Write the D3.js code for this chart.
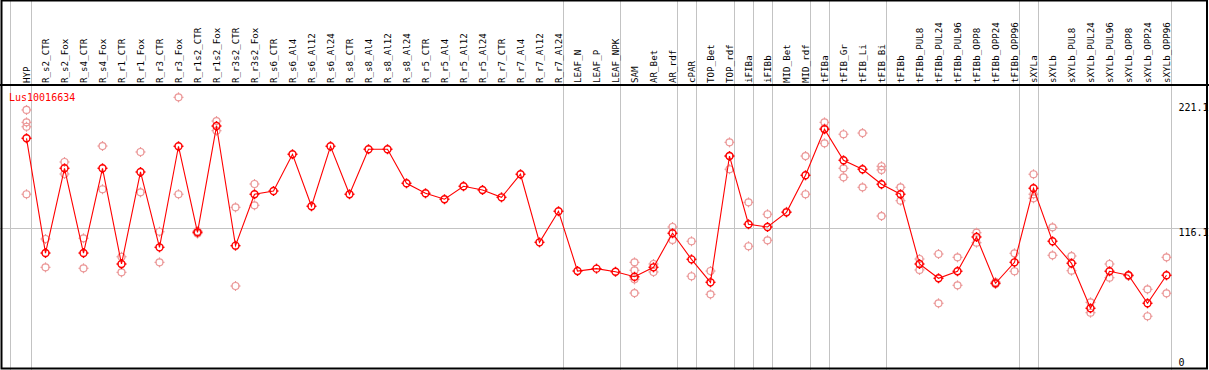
<!DOCTYPE html>
<meta charset="utf-8">
<style type="text/css">
body {
  margin: 0;
  background: #fff;
}

text {
  font-family: "DejaVu Sans Mono", monospace;
}

.sample {
  font-size: 9.2px;
  fill: #000;
}

.ylab {
  font-size: 10px;
  fill: #000;
}

.title {
  font-size: 10px;
  fill: #ff0000;
}

.sep, .grid {
  stroke: #c3c3c3;
  stroke-width: 1px;
}

.frame {
  stroke: #000;
  stroke-width: 2px;
  fill: none;
}
</style>
<body>
</body>

<script src="https://cdn.jsdelivr.net/npm/d3@7"></script>
<script>
var geneName = "Lus10016634";

var samples = ["HYP", "R_s2_CTR", "R_s2_Fox", "R_s4_CTR", "R_s4_Fox", "R_r1_CTR", "R_r1_Fox",
  "R_r3_CTR", "R_r3_Fox", "R_r1s2_CTR", "R_r1s2_Fox", "R_r3s2_CTR", "R_r3s2_Fox", "R_s6_CTR",
  "R_s6_Al4", "R_s6_Al12", "R_s6_Al24", "R_s8_CTR", "R_s8_Al4", "R_s8_Al12", "R_s8_Al24",
  "R_r5_CTR", "R_r5_Al4", "R_r5_Al12", "R_r5_Al24", "R_r7_CTR", "R_r7_Al4", "R_r7_Al12",
  "R_r7_Al24", "LEAF_N", "LEAF_P", "LEAF_NPK", "SAM", "AR_Bet", "AR_rdf", "cPAR", "TOP_Bet",
  "TOP_rdf", "iFIBa", "iFIBb", "MID_Bet", "MID_rdf", "tFIBa", "tFIB_Gr", "tFIB_Li", "tFIB_Bi",
  "tFIBb", "tFIBb_PUL8", "tFIBb_PUL24", "tFIBb_PUL96", "tFIBb_OPP8", "tFIBb_OPP24",
  "tFIBb_OPP96", "sXYLa", "sXYLb", "sXYLb_PUL8", "sXYLb_PUL24", "sXYLb_PUL96", "sXYLb_OPP8",
  "sXYLb_OPP24", "sXYLb_OPP96"];

// mean expression per sample
var means = [191.2, 94.8, 166.0, 94.8, 166.0, 85.6, 162.9, 99.6, 184.5, 112.2, 201.5, 101.0,
  144.2, 146.9, 177.8, 134.1, 184.5, 144.2, 182.0, 182.0, 153.4, 145.0, 140.0, 150.9, 147.8,
  141.6, 161.0, 103.8, 129.9, 79.7, 81.7, 79.1, 74.9, 82.8, 111.4, 89.5, 70.2, 176.3, 119.0,
  116.7, 129.0, 160.1, 198.8, 172.7, 165.2, 152.6, 144.2, 85.6, 73.6, 79.5, 108.3, 69.4, 87.0,
  149.2, 104.7, 86.2, 48.4, 79.5, 76.1, 52.6, 76.1];

// individual replicates
var replicates = [
  [215.0, 204.6, 200.9, 144.2], [106.6, 82.8], [171.3, 161.2], [107.2, 82.0], [184.7, 148.4],
  [91.7, 78.6], [179.7, 145.8], [112.7, 87.0], [225.6, 144.2], [113.2, 111.2], [205.7, 197.6],
  [133.2, 67.1], [152.8, 134.9], [], [], [], [], [], [], [], [], [], [], [], [], [], [], [], [],
  [], [], [], [87.0, 80.3, 72.7, 61.2], [85.6, 78.9], [116.7, 105.8], [104.7, 75.3],
  [79.7, 60.1], [187.8, 165.2, 176.3], [137.4, 100.5], [127.4, 105.5], [129.5],
  [176.3, 144.2], [204.6, 187.0, 199.5], [194.6, 166.0, 158.4], [195.6, 150.0],
  [167.7, 164.6, 125.9], [150.0, 138.8], [89.8, 80.6], [94.0, 52.6], [91.2, 67.7],
  [111.9, 103.5], [70.5, 68.9], [94.6, 79.5], [161.0, 144.2, 140.8], [116.4, 92.9],
  [92.3, 80.0], [53.4, 44.7], [85.6, 74.1], [76.1, 75.5], [64.3, 41.7], [91.2, 61.0]];

// group separators drawn after these samples
var groupEnds = ["HYP", "R_r7_Al24", "LEAF_NPK", "AR_rdf", "cPAR", "TOP_rdf", "iFIBa", "iFIBb",
  "MID_rdf", "tFIBa", "tFIB_Bi", "tFIBb_OPP96", "sXYLa", "sXYLb_OPP96"];

var yTicks = [221.1, 116.1, 0];

var width = 1209, height = 370;
var headerBottom = 85;

var svg = d3.select("body")
  .append("svg")
    .attr("width", width)
    .attr("height", height);

var x = d3.scaleBand()
  .domain(samples)
  .range([17, 17 + 19 * samples.length])
  .padding(0);

var xc = function(d) { return x(d) + x.bandwidth() / 2; };

var y = d3.scaleLinear()
  .domain([0, 221.1])
  .range([365.9, 102.7]);

// separators
svg.append("line")
  .attr("class", "sep")
  .attr("x1", 10.5).attr("x2", 10.5)
  .attr("y1", 0).attr("y2", height);

svg.selectAll("line.sep-g")
  .data(groupEnds)
  .enter().append("line")
    .attr("class", "sep")
    .attr("x1", function(d) { return Math.round(xc(d) + 4) + 0.5; })
    .attr("x2", function(d) { return Math.round(xc(d) + 4) + 0.5; })
    .attr("y1", 0)
    .attr("y2", height);

svg.append("line")
  .attr("class", "grid")
  .attr("x1", 0).attr("x2", width)
  .attr("y1", Math.round(y(116.1)) + 0.5)
  .attr("y2", Math.round(y(116.1)) + 0.5);

// sample labels
svg.selectAll("text.sample")
  .data(samples)
  .enter().append("text")
    .attr("class", "sample")
    .attr("transform", function(d) {
      return "translate(" + (xc(d) + 3.5) + "," + (headerBottom - 2) + ") rotate(-90)";
    })
    .text(function(d) { return d; });

// y labels
svg.selectAll("text.ylab")
  .data(yTicks)
  .enter().append("text")
    .attr("class", "ylab")
    .attr("x", 1178.5)
    .attr("y", function(d) { return Math.min(y(d) + 8.5, 365.5); })
    .text(function(d) { return d; });

svg.append("text")
  .attr("class", "title")
  .attr("x", 9)
  .attr("y", 100.5)
  .text(geneName);

function marker(g, r) {
  g.append("circle")
    .attr("r", r)
    .attr("fill", "none");
  [[0, -1], [0, 1], [-1, 0], [1, 0]].forEach(function(v) {
    g.append("line")
      .attr("x1", v[0] * (r - 0.5)).attr("y1", v[1] * (r - 0.5))
      .attr("x2", v[0] * (r + 1.5)).attr("y2", v[1] * (r + 1.5));
  });
}

// replicate points
var repData = [];
samples.forEach(function(s, i) {
  replicates[i].forEach(function(v) { repData.push({ s: s, v: v }); });
});

svg.selectAll("g.rep")
  .data(repData)
  .enter().append("g")
    .attr("class", "rep")
    .attr("stroke", "#eb9898")
    .attr("stroke-width", 1.2)
    .attr("transform", function(d) { return "translate(" + xc(d.s) + "," + y(d.v) + ")"; })
    .each(function() { marker(d3.select(this), 3.5); });

// mean line
var line = d3.line()
  .x(function(d, i) { return xc(samples[i]); })
  .y(function(d) { return y(d); });

svg.append("path")
  .datum(means)
  .attr("fill", "none")
  .attr("stroke", "#ff0000")
  .attr("stroke-width", 1.1)
  .attr("d", line);

svg.selectAll("g.mean")
  .data(means)
  .enter().append("g")
    .attr("class", "mean")
    .attr("stroke", "#ff0000")
    .attr("stroke-width", 1.4)
    .attr("transform", function(d, i) { return "translate(" + xc(samples[i]) + "," + y(d) + ")"; })
    .each(function() { marker(d3.select(this), 3.5); });

// frame
svg.append("rect")
  .attr("class", "frame")
  .attr("x", 1.5).attr("y", 0.5)
  .attr("width", 1205.5).attr("height", 368);

svg.append("line")
  .attr("class", "frame")
  .attr("x1", 0).attr("x2", width)
  .attr("y1", headerBottom).attr("y2", headerBottom);
</script>
